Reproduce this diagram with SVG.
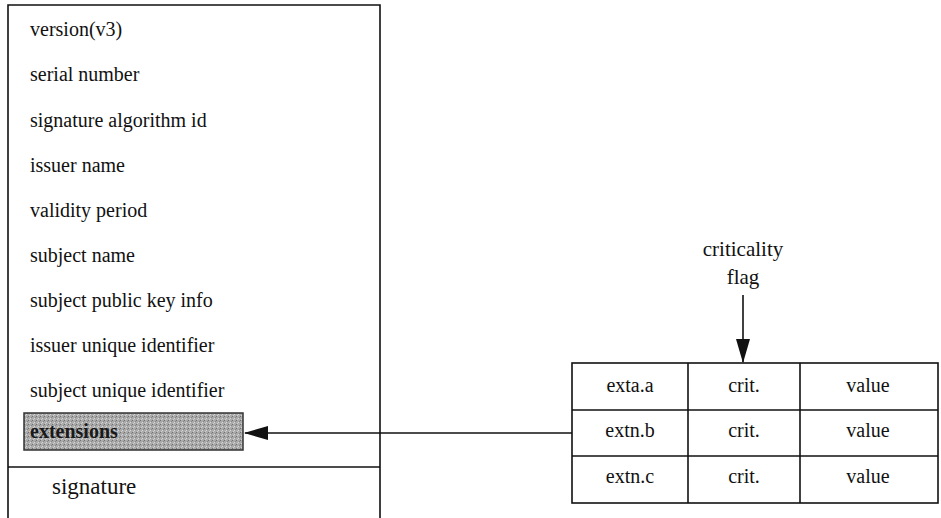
<svg xmlns="http://www.w3.org/2000/svg" width="941" height="518" viewBox="0 0 941 518">
<style>
.t{font-family:"Liberation Serif","Times New Roman",serif;font-size:20px;fill:#111}
.c{font-family:"Liberation Serif","Times New Roman",serif;font-size:20px;fill:#111;text-anchor:middle}
.ln{stroke:#111;stroke-width:1.6;fill:none}
</style>
<defs>
<marker id="ah" markerWidth="24" markerHeight="14" refX="23" refY="7" orient="auto" markerUnits="userSpaceOnUse">
<path d="M0,0 L24,7 L0,14 Z" fill="#111"/>
</marker>
<pattern id="stip" width="4" height="4" patternUnits="userSpaceOnUse">
<rect width="4" height="4" fill="#aaa"/>
<rect x="0" y="0" width="1" height="1" fill="#707070"/>
<rect x="2" y="2" width="1" height="1" fill="#d8d8d8"/>
<rect x="3" y="1" width="1" height="1" fill="#858585"/>
<rect x="1" y="3" width="1" height="1" fill="#cfcfcf"/>
</pattern>
</defs>
<rect width="941" height="518" fill="#fff"/>
<g id="certificate">
<path class="ln" d="M8,518 V5 H380 V518"/>
<line class="ln" x1="8" y1="467" x2="380" y2="467"/>
<text class="t" x="30" y="36">version(v3)</text>
<text class="t" x="30" y="81">serial number</text>
<text class="t" x="30" y="127">signature algorithm id</text>
<text class="t" x="30" y="172">issuer name</text>
<text class="t" x="30" y="217">validity period</text>
<text class="t" x="30" y="262">subject name</text>
<text class="t" x="30" y="307">subject public key info</text>
<text class="t" x="30" y="352">issuer unique identifier</text>
<text class="t" x="30" y="397">subject unique identifier</text>
<text class="t" x="52" y="494" style="font-size:23px">signature</text>
</g>
<g id="extensions">
<rect x="24" y="413" width="219" height="37" fill="url(#stip)" stroke="#333" stroke-width="1.5"/>
<text class="t" x="30" y="438" style="font-size:20px;font-weight:bold;fill:#1a1a1a">extensions</text>
</g>
<g id="ext-table">
<rect class="ln" x="572" y="363" width="366" height="140"/>
<line class="ln" x1="572" y1="410" x2="938" y2="410"/>
<line class="ln" x1="572" y1="456" x2="938" y2="456"/>
<line class="ln" x1="688" y1="363" x2="688" y2="503"/>
<line class="ln" x1="800" y1="363" x2="800" y2="503"/>
<text class="c" x="630" y="392">exta.a</text>
<text class="c" x="744" y="392">crit.</text>
<text class="c" x="868" y="392">value</text>
<text class="c" x="630" y="437">extn.b</text>
<text class="c" x="744" y="437">crit.</text>
<text class="c" x="868" y="437">value</text>
<text class="c" x="630" y="483">extn.c</text>
<text class="c" x="744" y="483">crit.</text>
<text class="c" x="868" y="483">value</text>
</g>
<g id="criticality-flag">
<text class="c" x="743" y="256" style="font-size:21px">criticality</text>
<text class="c" x="743" y="284" style="font-size:21px">flag</text>
</g>
<g id="connectors">
<line class="ln" x1="743" y1="295" x2="743" y2="362" marker-end="url(#ah)"/>
<line class="ln" x1="572" y1="433" x2="245" y2="433" marker-end="url(#ah)"/>
</g>
</svg>
